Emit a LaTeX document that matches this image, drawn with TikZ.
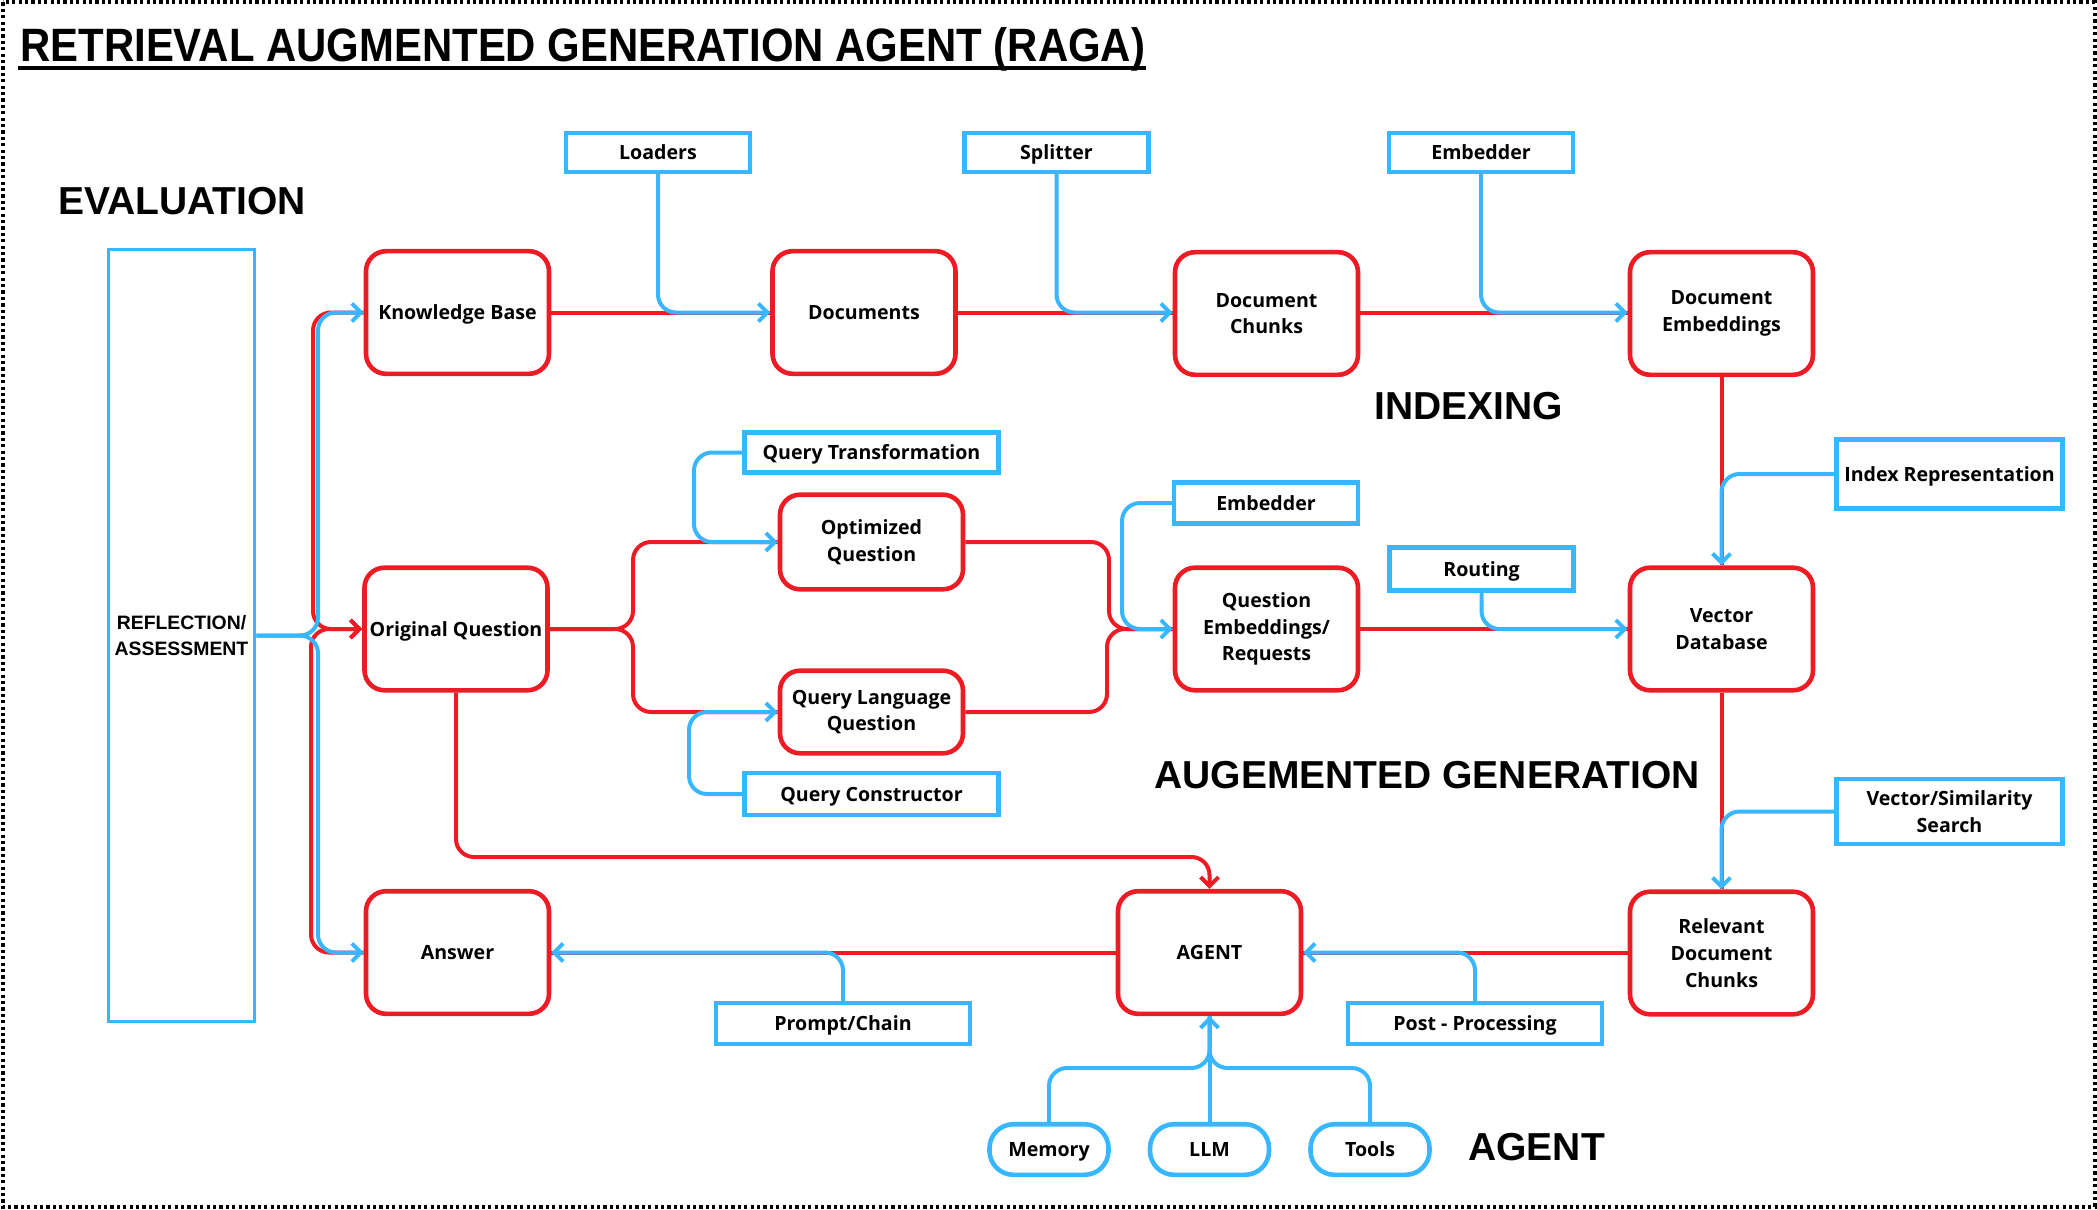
\documentclass[tikz,border=0pt]{standalone}
\usepackage{fontspec}
\setmainfont{Open Sans}
\newfontfamily\arialfont{Liberation Sans}
\newfontfamily\titlefont{Liberation Sans}[FakeStretch=0.895]
\usetikzlibrary{arrows.meta,calc}
\definecolor{rred}{HTML}{ED1C24}
\definecolor{bblue}{HTML}{38B6FF}
\begin{document}
\begin{tikzpicture}[x=0.5pt,y=-0.5pt,
  boxtext/.style={font=\fontsize{9.8}{13.4}\selectfont\bfseries, align=center, text=black, inner sep=1pt},
  oneline/.style={text height=8.4pt, text depth=1pt},
  redbox/.style={boxtext, draw=rred, line width=2.3pt, rounded corners=10pt, minimum width=91.5pt, minimum height=61.3pt},
  bluebox/.style={boxtext, draw=bblue, line width=2.2pt, minimum width=92pt, minimum height=19.5pt},
  pillbox/.style={boxtext, oneline, draw=bblue, line width=2.3pt, rounded corners=12pt, minimum width=59.5pt, minimum height=25.3pt},
  seclabel/.style={font=\arialfont\fontsize{19.5}{23}\selectfont\bfseries, anchor=base west, inner sep=0pt},
  rcon/.style={draw=rred, line width=2pt, rounded corners=9pt},
  bcon/.style={draw=bblue, line width=2pt, rounded corners=9pt},
  barb/.style={-{Straight Barb[length=4.5pt,width=9pt]}}
]
\useasboundingbox (0,0) rectangle (2097,1209);
\draw[line width=2pt, dash pattern=on 1.6pt off 1.6pt] (2.5,2.5) rectangle (2094.5,1206.5);

% title and section labels
\node[anchor=base west, inner sep=0pt, font=\titlefont\fontsize{23.4}{28}\selectfont\bfseries] (title) at (20,62) {RETRIEVAL AUGMENTED GENERATION AGENT (RAGA)};
\draw[line width=1.7pt] ($(title.base west)+(-2,6)$) -- ($(title.base east)+(0,6)$);
\node[seclabel] (evl) at (58,215) {EVALUATION};
\node[seclabel] (idx) at (1374,419) {INDEXING};
\node[seclabel] (aug) at (1154,788) {AUGEMENTED GENERATION};
\node[seclabel] (agl) at (1468,1160) {AGENT};

% reflection
\node[draw=bblue, line width=1.8pt, minimum width=73pt, minimum height=386pt, align=center, inner sep=1pt,
      font=\arialfont\fontsize{9.7}{13.4}\selectfont\bfseries] (refl) at (181.5,635.5) {REFLECTION/\\ASSESSMENT};

% red process boxes
\node[redbox, oneline] (kb)   at (457.5,312.5) {Knowledge Base};
\node[redbox, oneline] (docs) at (864,312.5) {Documents};
\node[redbox] (chk)  at (1266.5,313.5) {Document\\Chunks};
\node[redbox] (emb)  at (1721.5,313.5) {Document\\Embeddings};
\node[redbox, oneline] (oq)   at (456,629) {Original Question};
\node[redbox, minimum height=47.3pt] (opt) at (871.5,542) {Optimized\\Question};
\node[redbox, minimum height=41.3pt] (ql)  at (871.5,712) {Query Language\\Question};
\node[redbox] (qe)   at (1266.5,629) {Question\\Embeddings/\\Requests};
\node[redbox] (vdb)  at (1721.5,629) {Vector\\Database};
\node[redbox] (rdc)  at (1721.5,953) {Relevant\\Document\\Chunks};
\node[redbox, oneline] (agt)  at (1209.5,952.5) {AGENT};
\node[redbox, oneline] (ans)  at (457.5,952.5) {Answer};

% blue helper boxes
\node[bluebox, oneline] (ldr)  at (658,152.5) {Loaders};
\node[bluebox, oneline] (spl)  at (1056.5,152.5) {Splitter};
\node[bluebox, oneline] (embt) at (1481,152.5) {Embedder};
\node[bluebox, oneline, minimum width=127pt, minimum height=20pt] (qt) at (871.5,452.5) {Query Transformation};
\node[bluebox, oneline, minimum width=127pt, minimum height=21pt] (qc) at (871.5,794) {Query Constructor};
\node[bluebox, oneline, minimum height=20.5pt] (embm) at (1266,503) {Embedder};
\node[bluebox, oneline, minimum height=21.5pt] (rout) at (1481.5,569) {Routing};
\node[bluebox, oneline, minimum width=113pt, minimum height=34.5pt] (ir) at (1949.5,474) {Index Representation};
\node[bluebox, minimum width=113pt, minimum height=32.5pt] (vs) at (1949.5,811.5) {Vector/Similarity\\Search};
\node[bluebox, oneline, minimum width=127pt, minimum height=20.5pt] (pc) at (843,1023.5) {Prompt/Chain};
\node[bluebox, oneline, minimum width=127pt, minimum height=20.5pt] (pp) at (1475,1023.5) {Post - Processing};

% pills
\node[pillbox] (mem)  at (1049,1149.5) {Memory};
\node[pillbox] (llm)  at (1209.5,1149.5) {LLM};
\node[pillbox] (tool) at (1370,1149.5) {Tools};

% junction coordinates
\coordinate (agtop) at (1209.5,857);
\coordinate (agbot) at (1209.5,1068);

% ---------- red connectors ----------
\draw[rcon] (kb.east) -- (docs.west);
\draw[rcon] (docs.east) -- (docs.east -| chk.west);
\draw[rcon] (chk.east |- kb.east) -- (emb.west |- kb.east);
\draw[rcon] (emb.south) -- (vdb.north);
\draw[rcon] (qe.east) -- (vdb.west);
\draw[rcon] (vdb.south) -- (rdc.north);
\draw[rcon] (rdc.west |- agt.east) -- (agt.east);
\draw[rcon] (agt.west) -- (ans.east);
\draw[rcon] (oq.east) -| (633,542) -- (opt.west);
\draw[rcon] (oq.east) -| (633,712) -- (ql.west);
\draw[rcon] (opt.east) -| (1109,629) -- (qe.west);
\draw[rcon] (ql.east) -| (1107,629) -- (qe.west);
\draw[rcon, barb] (oq.south) |- (agtop) -- (agt.north);
\draw[rcon, barb] (kb.west) -| (313,629) -- (oq.west);
\draw[rcon, barb] (ans.west) -| (311,629) -- (oq.west);

% ---------- blue connectors ----------
\draw[bcon, barb] (refl.east) -| (318,312.5) -- (kb.west);
\draw[bcon, barb] (refl.east) -| (318,952.5) -- (ans.west);
\draw[bcon, barb] (ldr.south) |- (docs.west);
\draw[bcon, barb] (spl.south) |- (docs.east -| chk.west);
\draw[bcon, barb] (embt.south) |- (emb.west |- kb.east);
\draw[bcon, barb] (ir.west) -| (vdb.north);
\draw[bcon, barb] (rout.south) |- (vdb.west);
\draw[bcon, barb] (vs.west) -| (rdc.north);
\draw[bcon, barb] (pp.north) |- (agt.east);
\draw[bcon, barb] (pc.north) |- (ans.east);
\draw[bcon, barb] (qt.west) -| (694,542) -- (opt.west);
\draw[bcon, barb] (qc.west) -| (689,712) -- (ql.west);
\draw[bcon, barb] (embm.west) -| (1122,629) -- (qe.west);
\draw[bcon] (mem.north) |- (agbot) -- (agt.south);
\draw[bcon] (tool.north) |- (agbot) -- (agt.south);
\draw[bcon, barb] (llm.north) -- (agt.south);
\end{tikzpicture}
\end{document}
